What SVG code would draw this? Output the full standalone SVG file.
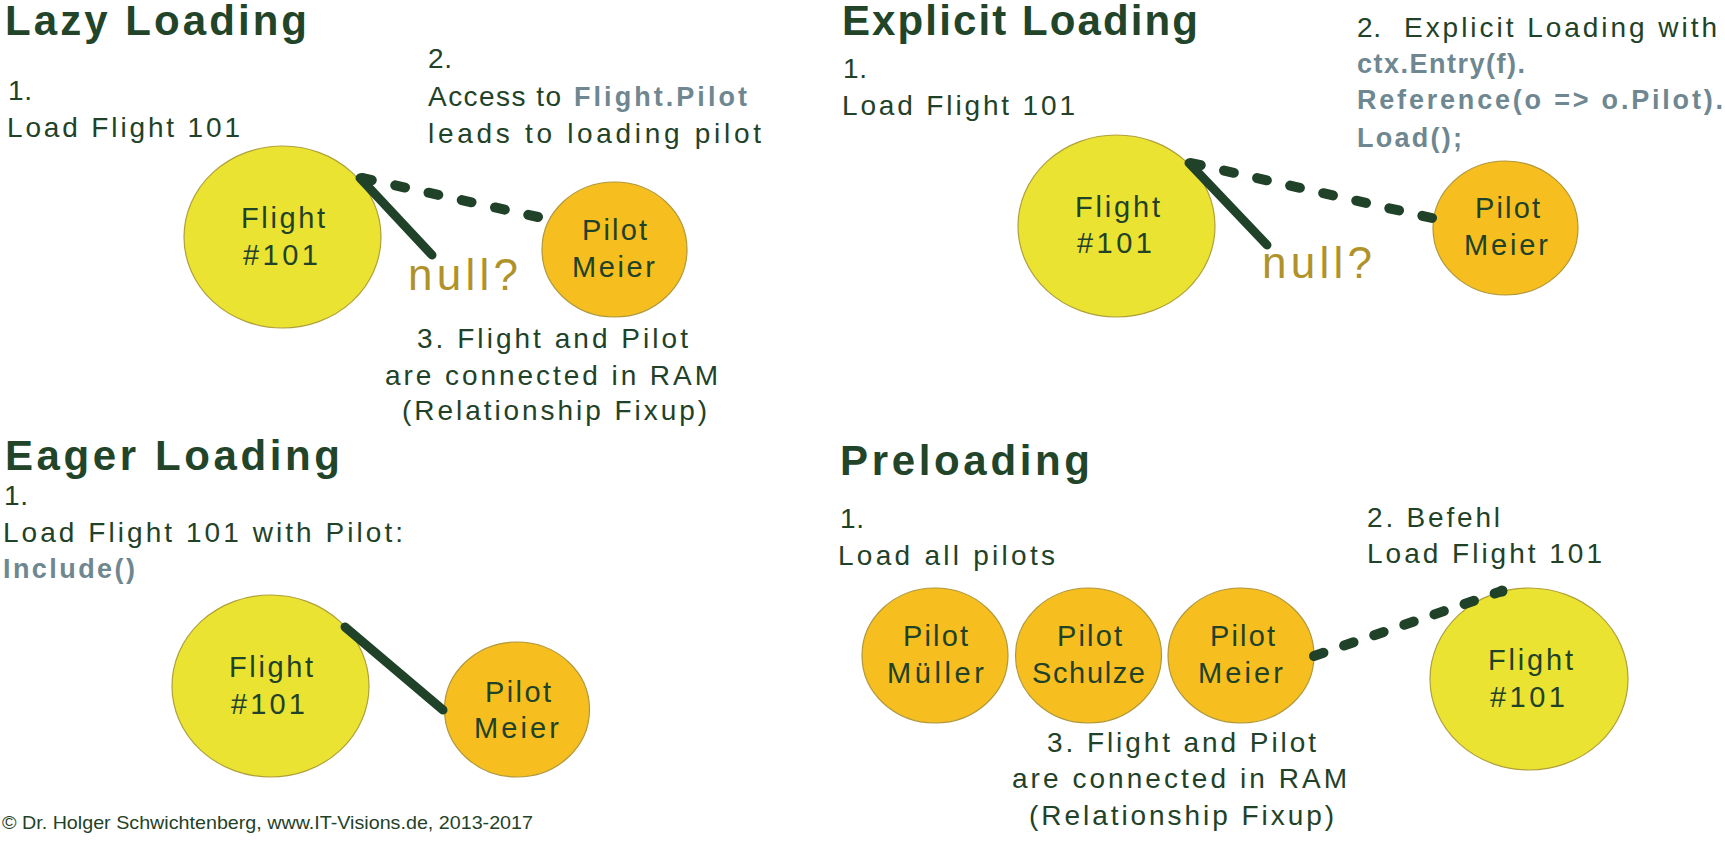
<svg xmlns="http://www.w3.org/2000/svg" width="1725" height="842" viewBox="0 0 1725 842">
<style>
text{font-family:"Liberation Sans",Arial,sans-serif;fill:#1f4228;}
.t{font-size:42px;font-weight:bold;fill:#22452a;}
.b{font-size:28px;}
.n{font-size:29px;}
.c{font-size:27px;font-weight:bold;fill:#6e8790;}
.q{font-size:44px;fill:#b0922a;}
.f{font-size:19px;}
.fl{fill:#eae332;stroke:#b0a03a;stroke-width:1.2;}
.pl{fill:#f6be1e;stroke:#b0983a;stroke-width:1.2;}
.sol{stroke:#1f4228;stroke-width:9;stroke-linecap:round;fill:none;}
.dsh{stroke:#1f4228;stroke-width:10;stroke-linecap:round;fill:none;}
</style>
<rect width="1725" height="842" fill="#ffffff"/>

<!-- Lazy Loading -->
<g id="lazy-labels">
<text class="t" x="5" y="35" textLength="302" lengthAdjust="spacing">Lazy Loading</text>
<text class="b" x="8" y="100" textLength="24" lengthAdjust="spacing">1.</text>
<text class="b" x="7" y="137" textLength="233" lengthAdjust="spacing">Load Flight 101</text>
<text class="b" x="428" y="68" textLength="24" lengthAdjust="spacing">2.</text>
<text class="b" x="428" y="106" textLength="133" lengthAdjust="spacing">Access to</text>
<text class="c" x="574" y="106" textLength="173" lengthAdjust="spacing">Flight.Pilot</text>
<text class="b" x="428" y="143" textLength="333" lengthAdjust="spacing">leads to loading pilot</text>
<text class="q" x="408" y="290" textLength="110" lengthAdjust="spacing">null?</text>
<text class="b" x="417" y="348" textLength="271" lengthAdjust="spacing">3. Flight and Pilot</text>
<text class="b" x="385" y="385" textLength="333" lengthAdjust="spacing">are connected in RAM</text>
<text class="b" x="402" y="420" textLength="305" lengthAdjust="spacing">(Relationship Fixup)</text>
</g>
<g id="lazy-flight">
<ellipse class="fl" cx="282.5" cy="237" rx="98.5" ry="91"/>
<text class="n" x="241" y="228" textLength="84" lengthAdjust="spacing">Flight</text>
<text class="n" x="243" y="265" textLength="75" lengthAdjust="spacing">#101</text>
</g>
<g id="lazy-pilot">
<ellipse class="pl" cx="614.5" cy="249.5" rx="72.5" ry="67.5"/>
<text class="n" x="582" y="240" textLength="65" lengthAdjust="spacing">Pilot</text>
<text class="n" x="572" y="277" textLength="83" lengthAdjust="spacing">Meier</text>
</g>

<!-- Explicit Loading -->
<g id="explicit-labels">
<text class="t" x="842" y="35" textLength="356" lengthAdjust="spacing">Explicit Loading</text>
<text class="b" x="843" y="78" textLength="24" lengthAdjust="spacing">1.</text>
<text class="b" x="842" y="115" textLength="233" lengthAdjust="spacing">Load Flight 101</text>
<text class="b" x="1357" y="37" textLength="24" lengthAdjust="spacing">2.</text>
<text class="b" x="1404" y="37" textLength="313" lengthAdjust="spacing">Explicit Loading with</text>
<text class="c" x="1357" y="73" textLength="168" lengthAdjust="spacing">ctx.Entry(f).</text>
<text class="c" x="1357" y="109" textLength="366" lengthAdjust="spacing">Reference(o =&gt; o.Pilot).</text>
<text class="c" x="1357" y="147" textLength="105" lengthAdjust="spacing">Load();</text>
<text class="q" x="1262" y="278" textLength="110" lengthAdjust="spacing">null?</text>
</g>
<g id="explicit-flight">
<ellipse class="fl" cx="1116.5" cy="226" rx="98.5" ry="91"/>
<text class="n" x="1075" y="217" textLength="85" lengthAdjust="spacing">Flight</text>
<text class="n" x="1077" y="253" textLength="75" lengthAdjust="spacing">#101</text>
</g>
<g id="explicit-pilot">
<ellipse class="pl" cx="1505.5" cy="228" rx="72.5" ry="67"/>
<text class="n" x="1475" y="218" textLength="65" lengthAdjust="spacing">Pilot</text>
<text class="n" x="1464" y="255" textLength="84" lengthAdjust="spacing">Meier</text>
</g>

<!-- Eager Loading -->
<g id="eager-labels">
<text class="t" x="5" y="470" textLength="335" lengthAdjust="spacing">Eager Loading</text>
<text class="b" x="4" y="505" textLength="24" lengthAdjust="spacing">1.</text>
<text class="b" x="3" y="542" textLength="400" lengthAdjust="spacing">Load Flight 101 with Pilot:</text>
<text class="c" x="3" y="578" textLength="132" lengthAdjust="spacing">Include()</text>
</g>
<g id="eager-flight">
<ellipse class="fl" cx="270.5" cy="686" rx="98.5" ry="91"/>
<text class="n" x="229" y="677" textLength="84" lengthAdjust="spacing">Flight</text>
<text class="n" x="231" y="714" textLength="74" lengthAdjust="spacing">#101</text>
</g>
<g id="eager-pilot">
<ellipse class="pl" cx="517" cy="709.5" rx="72.5" ry="67.5"/>
<text class="n" x="485" y="702" textLength="66" lengthAdjust="spacing">Pilot</text>
<text class="n" x="474" y="738" textLength="85" lengthAdjust="spacing">Meier</text>
</g>

<!-- Preloading -->
<g id="preloading-labels">
<text class="t" x="840" y="475" textLength="250" lengthAdjust="spacing">Preloading</text>
<text class="b" x="840" y="528" textLength="24" lengthAdjust="spacing">1.</text>
<text class="b" x="838" y="565" textLength="217" lengthAdjust="spacing">Load all pilots</text>
<text class="b" x="1367" y="527" textLength="133" lengthAdjust="spacing">2. Befehl</text>
<text class="b" x="1367" y="563" textLength="235" lengthAdjust="spacing">Load Flight 101</text>
<text class="b" x="1047" y="752" textLength="269" lengthAdjust="spacing">3. Flight and Pilot</text>
<text class="b" x="1012" y="788" textLength="335" lengthAdjust="spacing">are connected in RAM</text>
<text class="b" x="1029" y="825" textLength="305" lengthAdjust="spacing">(Relationship Fixup)</text>
</g>
<g id="pre-pilot-mueller">
<ellipse class="pl" cx="935" cy="655.5" rx="73" ry="67.5"/>
<text class="n" x="903" y="646" textLength="65" lengthAdjust="spacing">Pilot</text>
<text class="n" x="887" y="683" textLength="97" lengthAdjust="spacing">Müller</text>
</g>
<g id="pre-pilot-schulze">
<ellipse class="pl" cx="1088.5" cy="655.5" rx="73" ry="67.5"/>
<text class="n" x="1057" y="646" textLength="65" lengthAdjust="spacing">Pilot</text>
<text class="n" x="1032" y="683" textLength="113" lengthAdjust="spacing">Schulze</text>
</g>
<g id="pre-pilot-meier">
<ellipse class="pl" cx="1241" cy="655.5" rx="73" ry="67.5"/>
<text class="n" x="1210" y="646" textLength="65" lengthAdjust="spacing">Pilot</text>
<text class="n" x="1198" y="683" textLength="85" lengthAdjust="spacing">Meier</text>
</g>
<g id="pre-flight">
<ellipse class="fl" cx="1529" cy="679" rx="99" ry="91"/>
<text class="n" x="1488" y="670" textLength="85" lengthAdjust="spacing">Flight</text>
<text class="n" x="1490" y="707" textLength="75" lengthAdjust="spacing">#101</text>
</g>

<!-- connectors -->
<g id="connectors">
<line class="sol" x1="360" y1="178" x2="432" y2="255"/>
<line class="dsh" x1="362" y1="178" x2="538" y2="217" stroke-dasharray="10 24.06"/>
<line class="sol" x1="1189" y1="163" x2="1267" y2="245"/>
<line class="dsh" x1="1191" y1="163" x2="1432" y2="218" stroke-dasharray="10 23.9"/>
<line class="sol" x1="345" y1="627" x2="443" y2="710"/>
<line class="dsh" x1="1314" y1="656" x2="1502" y2="591" stroke-dasharray="10 21.85"/>
<circle cx="1502" cy="591" r="5.5" fill="#1f4228"/>
</g>

<g id="footer">
<text class="f" x="2" y="829" textLength="531" lengthAdjust="spacingAndGlyphs">© Dr. Holger Schwichtenberg, www.IT-Visions.de, 2013-2017</text>
</g>
</svg>
